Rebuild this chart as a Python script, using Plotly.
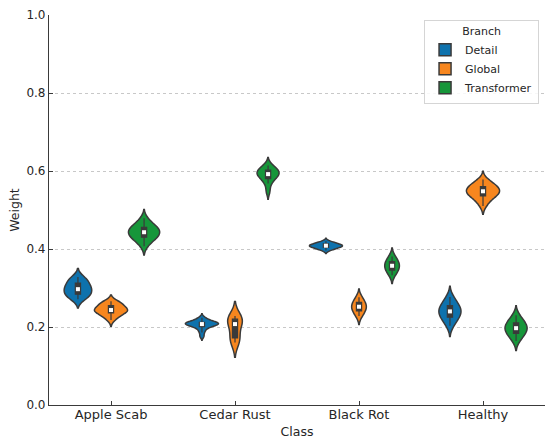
import numpy as np
import plotly.graph_objects as go

CLASSES = ['Apple Scab', 'Cedar Rust', 'Black Rot', 'Healthy']
BRANCHES = ['Detail', 'Global', 'Transformer']

# per-class sample weights for each branch
detail_apple = [0.271, 0.275, 0.279, 0.283, 0.287, 0.291, 0.294, 0.297, 0.301, 0.305, 0.309, 0.314, 0.319,
                0.324, 0.328]
detail_cedar = [0.176, 0.186, 0.193, 0.198, 0.201, 0.203, 0.205, 0.206, 0.207, 0.208, 0.209, 0.210, 0.211,
                0.212, 0.214, 0.216, 0.219, 0.224]
detail_black = [0.396, 0.399, 0.401, 0.402, 0.404, 0.405, 0.406, 0.407, 0.408, 0.409, 0.409, 0.410, 0.411,
                0.413, 0.414, 0.415, 0.417, 0.420]
detail_healthy = [0.203, 0.215, 0.222, 0.228, 0.233, 0.238, 0.242, 0.247, 0.252, 0.258, 0.265, 0.277]

global_apple = [0.218, 0.224, 0.229, 0.233, 0.236, 0.238, 0.240, 0.242, 0.243, 0.244, 0.246, 0.249, 0.252,
                0.255, 0.258, 0.261, 0.263, 0.266]
global_cedar = [0.160, 0.166, 0.178, 0.202, 0.213, 0.218, 0.222, 0.228]
global_black = [0.228, 0.238, 0.244, 0.250, 0.254, 0.260, 0.266, 0.276]
global_healthy = [0.510, 0.521, 0.527, 0.532, 0.536, 0.539, 0.542, 0.544, 0.547, 0.549, 0.552, 0.554, 0.557,
                  0.560, 0.563, 0.567, 0.571, 0.578]

transformer_apple = [0.407, 0.418, 0.423, 0.428, 0.431, 0.434, 0.437, 0.440, 0.443, 0.446, 0.449, 0.452,
                     0.455, 0.458, 0.463, 0.468, 0.479]
transformer_cedar = [0.548, 0.568, 0.577, 0.584, 0.588, 0.591, 0.593, 0.597, 0.600, 0.604, 0.608, 0.614]
transformer_black = [0.333, 0.343, 0.349, 0.354, 0.360, 0.365, 0.371, 0.381]
transformer_healthy = [0.164, 0.175, 0.181, 0.186, 0.191, 0.195, 0.199, 0.203, 0.208, 0.213, 0.219, 0.230]

SAMPLES = {
    'Detail': [detail_apple, detail_cedar, detail_black, detail_healthy],
    'Global': [global_apple, global_cedar, global_black, global_healthy],
    'Transformer': [transformer_apple, transformer_cedar, transformer_black, transformer_healthy],
}

COLORS = {'Detail': '#0E72AD', 'Global': '#F7861E', 'Transformer': '#16963A'}
EDGE = '#3a3a3a'
HUE_W = 0.8 / len(BRANCHES)
BOX_W = 0.042  # inner box width in x units
max_n = max(len(v) for b in BRANCHES for v in SAMPLES[b])

fig = go.Figure()
for bi, branch in enumerate(BRANCHES):
    for ci, cls in enumerate(CLASSES):
        vals = SAMPLES[branch][ci]
        pos = ci + (bi - 1) * HUE_W
        w = HUE_W * len(vals) / max_n  # width scaled by count, like seaborn density_norm='count'
        fig.add_trace(go.Violin(
            y=vals, x0=pos, width=w, name=branch, showlegend=(ci == 0),
            scalegroup=f'{cls}-{branch}', scalemode='width', points=False,
            fillcolor=COLORS[branch], opacity=1, line=dict(color=EDGE, width=1.5),
            box=dict(visible=True, width=BOX_W / w, fillcolor=EDGE, line=dict(color=EDGE, width=1.2)),
            meanline=dict(visible=False), hoverinfo='skip',
        ))
        fig.add_trace(go.Scatter(
            x=[pos], y=[float(np.median(vals))], mode='markers', showlegend=False, hoverinfo='skip',
            marker=dict(symbol='square', size=4, color='white', line=dict(width=0)),
        ))

font = dict(family='DejaVu Sans', size=13, color='#262626')
fig.update_layout(
    width=550, height=442, margin=dict(l=49, r=5, t=15, b=37),
    plot_bgcolor='white', paper_bgcolor='white', font=font, violinmode='overlay',
    legend=dict(title=dict(text='Branch', side='top center', font=dict(size=11)),
                font=dict(family='DejaVu Sans', size=11, color='#262626'),
                tracegroupgap=0, itemwidth=30,
                x=0.988, xanchor='right', y=0.987, yanchor='top',
                bgcolor='rgba(255,255,255,0.85)', bordercolor='#d5d5d5', borderwidth=1),
)
fig.update_xaxes(range=[-0.5, 3.5], tickvals=list(range(len(CLASSES))), ticktext=CLASSES,
                 showgrid=False, zeroline=False, showline=True, linecolor='#3a3a3a', linewidth=1.2,
                 ticks='inside', ticklen=4, tickcolor='#3a3a3a', tickfont=dict(size=13),
                 ticklabelstandoff=-3, automargin=False,
                 title=dict(text='Class', standoff=6, font=dict(size=12.5)))
fig.update_yaxes(range=[0, 1.0], tickvals=[0, 0.2, 0.4, 0.6, 0.8, 1.0], tickformat='.1f',
                 showgrid=True, gridcolor='#c8c8c8', griddash='dot', gridwidth=1, zeroline=False,
                 showline=True, linecolor='#3a3a3a', linewidth=1.2, automargin=False,
                 ticks='inside', ticklen=4, tickcolor='#3a3a3a', tickfont=dict(size=12),
                 title=dict(text='Weight', standoff=4, font=dict(size=12.5)))

# the page's default body margin would shift the figure by 8px
fig.write_html('out.html', config={'displayModeBar': False},
               post_script="document.body.style.margin='0';")
